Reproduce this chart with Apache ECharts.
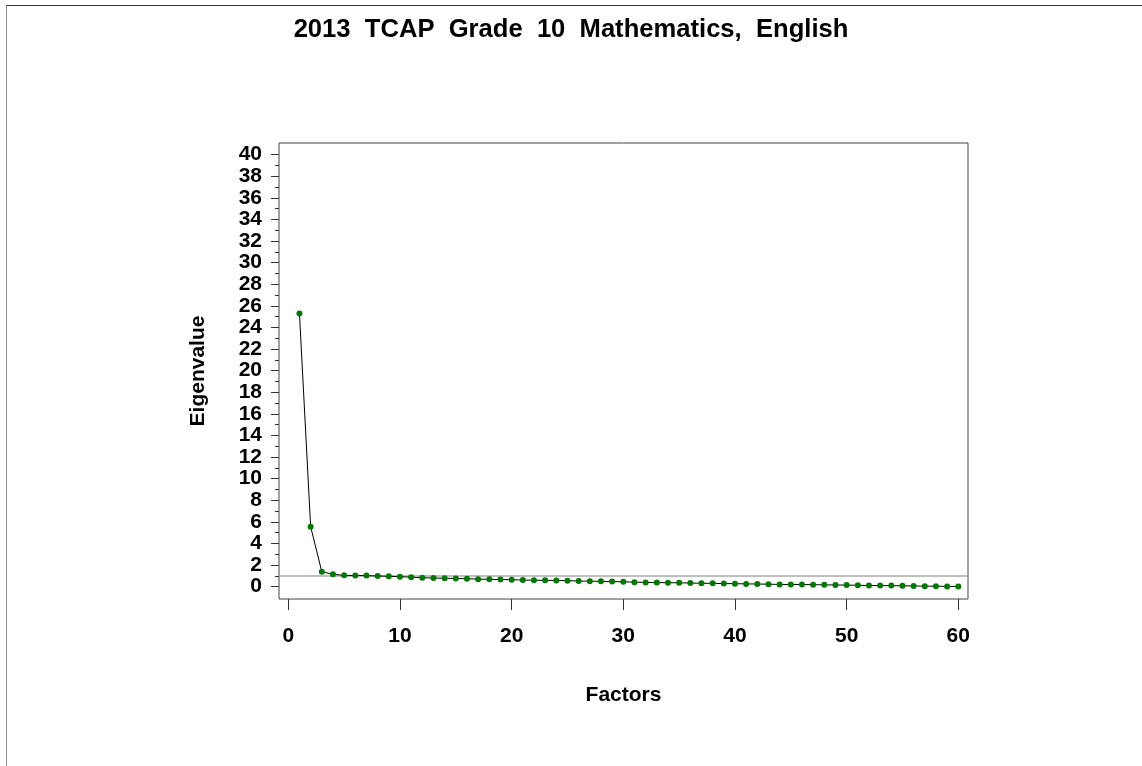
<!DOCTYPE html>
<html>
<head>
<meta charset="utf-8">
<script src="https://cdn.jsdelivr.net/npm/echarts@6/dist/echarts.min.js"></script>
<style>
  html,body{margin:0;padding:0;background:#fff;}
  .page-frame{position:absolute;left:6px;top:5px;width:1136px;height:761px;border-top:1px solid #333;border-left:1px solid #888;}
  #chart{position:absolute;left:0;top:0;width:1142px;height:766px;}
</style>
</head>
<body>
<div class="page-frame"></div>
<div id="chart"></div>
<script>
// scree plot data
var factors = [];
for (var i = 1; i <= 60; i++) factors.push(i);
var eigenvalues = [
  25.3, 5.56, 1.39, 1.15, 1.05, 1.04, 1.03, 0.99, 0.96, 0.93,
  0.88, 0.84, 0.80, 0.78, 0.76, 0.74, 0.70, 0.68, 0.66, 0.65,
  0.61, 0.60, 0.59, 0.57, 0.56, 0.52, 0.51, 0.50, 0.47, 0.45,
  0.42, 0.40, 0.38, 0.37, 0.36, 0.34, 0.32, 0.31, 0.29, 0.28,
  0.26, 0.25, 0.23, 0.21, 0.20, 0.20, 0.19, 0.17, 0.16, 0.15,
  0.13, 0.11, 0.10, 0.10, 0.08, 0.07, 0.05, 0.05, 0.03, 0.02
];
var refLine = 1;
var xTickValues = [0, 10, 20, 30, 40, 50, 60];
var yTickValues = [0, 2, 4, 6, 8, 10, 12, 14, 16, 18, 20, 22, 24, 26, 28, 30, 32, 34, 36, 38, 40];
var yMinorValues = [1, 3, 5, 7, 9, 11, 13, 15, 17, 19, 21, 23, 25, 27, 29, 31, 33, 35, 37, 39];

// layout (px): plot frame, and where the first/last tick values sit
var frame = {left: 279, top: 143, right: 968, bottom: 599};
var inner = {left: 288.3, top: 154.7, right: 958.3, bottom: 586.7};

var xLo = xTickValues[0], xHi = xTickValues[xTickValues.length - 1];
var yLo = yTickValues[0], yHi = yTickValues[yTickValues.length - 1];
var xPer = (inner.right - inner.left) / (xHi - xLo);
var yPer = (inner.bottom - inner.top) / (yHi - yLo);
var fxMin = xLo - (inner.left - frame.left) / xPer;
var fxMax = xHi + (frame.right - inner.right) / xPer;
var fyMin = yLo - (frame.bottom - inner.bottom) / yPer;
var fyMax = yHi + (inner.top - frame.top) / yPer;

var font = 'Liberation Sans';
var txt = {fontFamily: font, fontSize: 21, fontWeight: 'bold', color: '#000'};
var myChart = echarts.init(document.getElementById('chart'));
myChart.setOption({
  animation: false,
  title: {
    text: '2013  TCAP  Grade  10  Mathematics,  English',
    left: 566, top: 12, textAlign: 'center',
    textStyle: {fontFamily: font, fontSize: 25.6, fontWeight: 'bold', color: '#000'}
  },
  grid: {
    left: frame.left, top: frame.top,
    width: frame.right - frame.left, height: frame.bottom - frame.top,
    show: true, borderColor: '#444', borderWidth: 1
  },
  xAxis: {
    type: 'value', min: fxMin, max: fxMax,
    axisLine: {show: false, onZero: false},
    axisTick: {show: true, length: 11, customValues: xTickValues, lineStyle: {color: '#333'}},
    splitLine: {show: false},
    axisLabel: Object.assign({margin: 27, customValues: xTickValues}, txt),
    name: 'Factors', nameLocation: 'middle', nameGap: 86,
    nameTextStyle: txt
  },
  yAxis: [{
    type: 'value', position: 'left', min: fyMin, max: fyMax,
    axisLine: {show: false, onZero: false},
    axisTick: {show: true, length: 8, customValues: yTickValues, lineStyle: {color: '#333'}},
    splitLine: {show: false},
    axisLabel: Object.assign({margin: 17, customValues: yTickValues}, txt),
    name: 'Eigenvalue', nameLocation: 'middle', nameGap: 70,
    nameTextStyle: txt
  }, {
    type: 'value', position: 'left', offset: 0, min: fyMin, max: fyMax,
    axisLine: {show: false, onZero: false},
    axisTick: {show: true, length: 4, customValues: yMinorValues, lineStyle: {color: '#333'}},
    splitLine: {show: false},
    axisLabel: {show: false}
  }],
  series: [{
    type: 'line',
    data: factors.map(function (f, i) { return [f, eigenvalues[i]]; }),
    symbol: 'circle', symbolSize: 6,
    itemStyle: {color: '#007a00'},
    lineStyle: {color: '#000', width: 1},
    z: 3,
    markLine: {
      silent: true, symbol: 'none', label: {show: false},
      lineStyle: {color: '#a8a8a8', type: 'solid', width: 1.5},
      data: [{yAxis: refLine}],
      z: 2
    }
  }]
});
</script>
</body>
</html>
